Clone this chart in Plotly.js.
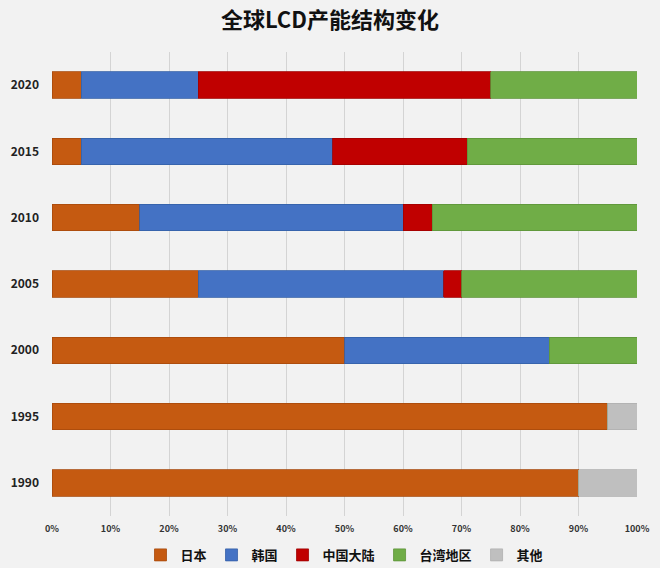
<!DOCTYPE html>
<html><head><meta charset="utf-8">
<script src="https://cdn.plot.ly/plotly-3.0.1.min.js"></script>
<style>html,body{margin:0;padding:0;background:#f2f2f2;}</style>
</head><body>
<div id="chart" style="width:660px;height:568px;"></div>
<script>
var years = ['1990','1995','2000','2005','2010','2015','2020'];
var seriesNames = ['日本','韩国','中国大陆','台湾地区','其他'];
var japan  = [90, 95, 50, 25, 15, 5, 5];
var korea  = [0, 0, 35, 42, 45, 43, 20];
var china  = [0, 0, 0, 3, 5, 23, 50];
var taiwan = [0, 0, 15, 30, 35, 29, 25];
var other  = [10, 5, 0, 0, 0, 0, 0];
var xTickVals = [0,10,20,30,40,50,60,70,80,90,100];
var xTickText = ['0%','10%','20%','30%','40%','50%','60%','70%','80%','90%','100%'];

var colors = ['#c55a11','#4472c4','#c00000','#70ad47','#bfbfbf'];
var lineColors = ['#a84a0c','#3560a8','#a00000','#5e9439','#b0b0b0'];
var data = [japan, korea, china, taiwan, other].map(function(v,i){
  return {type:'bar', orientation:'h', x:v, y:years, name:seriesNames[i],
    marker:{color:colors[i], line:{color:lineColors[i], width:0.8}},
    hoverinfo:'x+name'};
});
var layout = {
  width:660, height:568,
  paper_bgcolor:'#f2f2f2', plot_bgcolor:'#f2f2f2',
  barmode:'stack', bargap:0.6,
  margin:{l:52, r:23, t:52, b:52},
  title:{text:'<b>全球LCD产能结构变化</b>', x:0.5, xanchor:'center', y:0.965, yanchor:'middle',
    font:{family:'Noto Sans CJK SC', size:22, color:'#111'}},
  xaxis:{range:[0,100], tickvals:xTickVals, ticktext:xTickText, showgrid:true,
    gridcolor:'#d4d4d4', gridwidth:1, zeroline:false, showline:false, ticklabelstandoff:6,
    tickfont:{family:'Noto Sans CJK SC', size:9, color:'#333', weight:'bold'}, ticks:'', ticklen:0, fixedrange:true},
  yaxis:{type:'category', categoryorder:'array', categoryarray:years, showgrid:false,
    zeroline:false, showline:false, ticks:'', ticklabelstandoff:12,
    tickfont:{family:'Noto Sans CJK SC', size:12, color:'#222', weight:'bold'}, fixedrange:true},
  legend:{orientation:'h', x:0.5, xanchor:'center', xref:'paper', y:0.023, yref:'container', yanchor:'middle',
    font:{family:'Noto Sans CJK SC', size:13, color:'#111', weight:'bold'}, traceorder:'normal',
    itemwidth:30, bgcolor:'rgba(0,0,0,0)'},
  showlegend:true
};
Plotly.newPlot('chart', data, layout, {displayModeBar:false, staticPlot:true});
</script>
</body></html>
